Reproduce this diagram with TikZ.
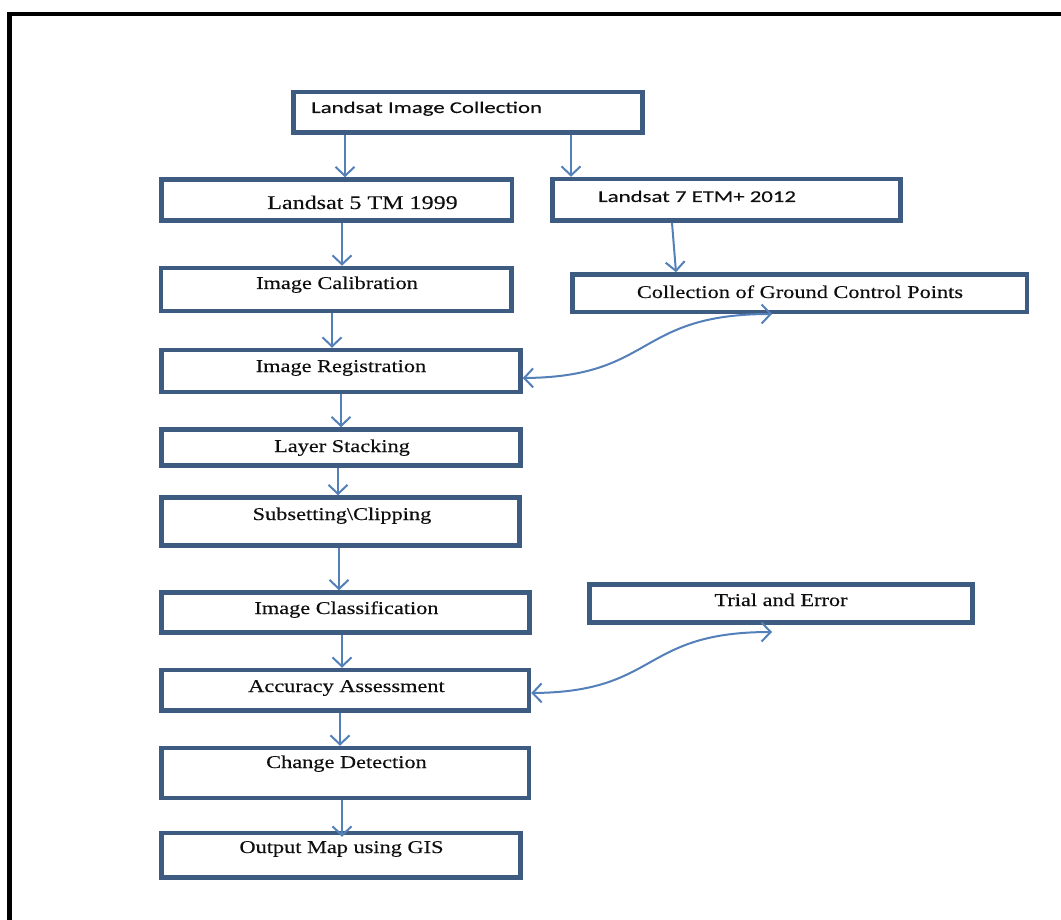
\documentclass[tikz,border=0pt]{standalone}
\usepackage{fontspec}
\usetikzlibrary{arrows.meta}
\newfontfamily\serfont[FakeStretch=1.24,FakeBold=0.25]{Liberation Serif}
\newfontfamily\calfont[FakeStretch=1.38,FakeBold=0.2]{Carlito}
\definecolor{boxc}{RGB}{62,91,130}
\definecolor{arrc}{RGB}{84,128,186}
\definecolor{txtc}{RGB}{15,15,15}
\begin{document}
\begin{tikzpicture}[x=1pt,y=-1pt,
  box/.style={draw=boxc, line width=4.5pt, inner sep=0pt, fill=white},
  tser/.style={font=\serfont\fontsize{18}{20}\selectfont, text=txtc, inner sep=0pt, anchor=base},
  tcal/.style={font=\calfont\fontsize{16.5}{19}\selectfont, text=txtc, inner sep=0pt, anchor=base west},
  arr/.style={draw=arrc, line width=2pt, -{Straight Barb[length=9pt,width=19pt]}},
  darr/.style={draw=arrc, line width=2pt, {Straight Barb[length=9pt,width=19pt]}-{Straight Barb[length=9pt,width=19pt]}}
]
\useasboundingbox (0,0) rectangle (1061,920);
\fill[white] (0,0) rectangle (1061,920);
% outer frame (top and left only visible)
\draw[line width=4.5pt, line join=miter] (9.5,925) -- (9.5,14) -- (1066,14);

% boxes
\node[box, minimum width=349pt,   minimum height=40.5pt] (lic)   at (468,112.25) {};
\node[box, minimum width=350.5pt, minimum height=41pt]   (l5)    at (336.75,200) {};
\node[box, minimum width=348pt,   minimum height=41.5pt] (l7)    at (726.5,199.75) {};
\node[box, minimum width=350.5pt, minimum height=43pt]   (cal)   at (336.25,289.5) {};
\node[box, minimum width=454.5pt, minimum height=37.5pt] (gcp)   at (799.75,293.25) {};
\node[box, minimum width=359pt,   minimum height=42pt]   (reg)   at (341,371) {};
\node[box, minimum width=359pt,   minimum height=36pt]   (lay)   at (341,447.5) {};
\node[box, minimum width=358pt,   minimum height=48pt]   (sub)   at (340.5,521.5) {};
\node[box, minimum width=368pt,   minimum height=40pt]   (cls)   at (345.5,612.5) {};
\node[box, minimum width=383pt,   minimum height=38pt]   (trial) at (781,603.5) {};
\node[box, minimum width=367.5pt, minimum height=40.5pt] (acc)   at (345.25,690.25) {};
\node[box, minimum width=367.5pt, minimum height=50pt]   (chg)   at (345.25,773) {};
\node[box, minimum width=359pt,   minimum height=44.5pt] (out)   at (341,855.25) {};

% texts
\node[tcal] (lic-t)   at (311,113)   {Landsat Image Collection};
\node[tser, font=\serfont\fontsize{19.4}{21}\selectfont] (l5-t) at (362.5,209) {Landsat 5 TM 1999};
\node[tcal] (l7-t)    at (598,202)   {Landsat 7 ETM+ 2012};
\node[tser] (cal-t)   at (337,289)   {Image Calibration};
\node[tser] (gcp-t)   at (800,298)   {Collection of Ground Control Points};
\node[tser] (reg-t)   at (341,372)   {Image Registration};
\node[tser] (lay-t)   at (342,452)   {Layer Stacking};
\node[tser] (sub-t)   at (342,520)   {Subsetting\textbackslash Clipping};
\node[tser] (cls-t)   at (346.5,614) {Image Classification};
\node[tser] (trial-t) at (781,606)   {Trial and Error};
\node[tser] (acc-t)   at (346.5,692) {Accuracy Assessment};
\node[tser] (chg-t)   at (346.5,768) {Change Detection};
\node[tser] (out-t)   at (341.5,853) {Output Map using GIS};

% vertical arrows
\draw[arr] (lic.south -| 345,0) -- (l5.north -| 345,0);
\draw[arr] (lic.south -| 571,0) -- (l7.north -| 571,0);
\draw[arr] (l5.south -| 342,0) -- (cal.north -| 342,0);
\draw[arr] (l7.south -| 672,0) -- (gcp.north -| 676,0);
\draw[arr] (cal.south -| 332,0) -- (reg.north -| 332,0);
\draw[arr] (reg.south -| 341,0) -- (lay.north -| 341,0);
\draw[arr] (lay.south -| 338,0) -- (sub.north -| 338,0);
\draw[arr] (sub.south -| 339,0) -- (cls.north -| 339,0);
\draw[arr] (cls.south -| 342,0) -- (acc.north -| 342,0);
\draw[arr] (acc.south -| 340,0) -- (chg.north -| 340,0);
\draw[arr, shorten >=-6pt] (chg.south -| 342,0) -- (out.north -| 342,0);

% curved double arrows
\coordinate (gcpend) at (772,314);
\coordinate (trialend) at (772,632);
\draw[darr] (reg.east |- 0,378) .. controls (655,377) and (635,314) .. (gcpend);
\draw[darr] (acc.east |- 0,693) .. controls (660,692) and (640,632) .. (trialend);
\end{tikzpicture}
\end{document}
